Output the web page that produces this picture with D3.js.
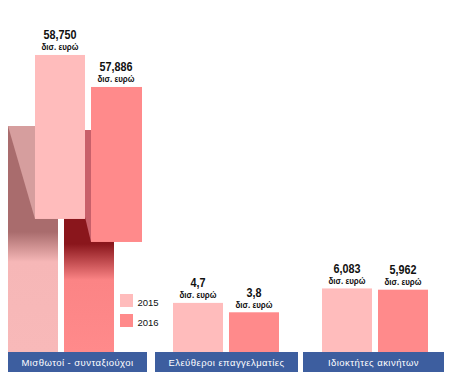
<!DOCTYPE html>
<html><head><meta charset="utf-8">
<script src="https://cdn.jsdelivr.net/npm/d3@7/dist/d3.min.js"></script>
<style>
body{margin:0;background:#fff;}
svg{display:block;}
.val{font-family:"Liberation Sans",Arial,sans-serif;font-weight:bold;fill:#111;}
.cat{font-family:"Liberation Sans",Arial,sans-serif;fill:#fff;}
.leg{font-family:"Liberation Sans",Arial,sans-serif;fill:#111;}
</style></head>
<body>
<script>
const categories = ["Μισθωτοί - συνταξιούχοι", "Ελεύθεροι επαγγελματίες", "Ιδιοκτήτες ακινήτων"];
const years = ["2015", "2016"];
const values2015 = [58.750, 4.7, 6.083];
const values2016 = [57.886, 3.8, 5.962];
const valueLabels2015 = ["58,750", "4,7", "6,083"];
const valueLabels2016 = ["57,886", "3,8", "5,962"];
const unitLabel = "δισ. ευρώ";

const W = 455, H = 380;
const colors = {"2015": "#ffbcbc", "2016": "#ff8a8b"};
const svg = d3.select("body").append("svg").attr("width", W).attr("height", H);
const defs = svg.append("defs");

const baseY = 352;
// scale for the normal bars
const y = d3.scaleLinear().domain([0, 10]).range([baseY, baseY - 104.5]);
// broken scale for the very large category
const yBreak = d3.scaleLinear().domain([57, 59]).range([119.8, 45.7]);

// category bands
const bands = [[8, 147], [155, 298], [303, 444]];
const barW = 50, gap = 6;
const barOffsets = [0, 18, 19];

const g = svg.append("g");
categories.forEach((c, i) => {
  const [x0, x1] = bands[i];
  g.append("rect").attr("x", x0).attr("y", baseY).attr("width", x1 - x0).attr("height", 20).attr("fill", "#3d5e9f");
  g.append("text").attr("class", "cat").attr("x", (x0 + x1) / 2).attr("y", 365.5)
    .attr("text-anchor", "middle").attr("font-size", "9.5px").attr("letter-spacing", "0.45px").text(c);
});

function label(cx, top, txt) {
  g.append("g").attr("transform", `translate(${cx},${top - 15.5}) scale(0.8,1)`)
    .append("text").attr("class", "val").attr("text-anchor", "middle").attr("font-size", "13.5px").text(txt);
  g.append("g").attr("transform", `translate(${cx},${top - 4.5}) scale(0.84,1)`)
    .append("text").attr("class", "val").attr("text-anchor", "middle").attr("font-size", "9.5px").text(unitLabel);
}

for (let i = 1; i < 3; i++) {
  const x0 = bands[i][0] + barOffsets[i];
  [[values2015[i], "2015", valueLabels2015[i]], [values2016[i], "2016", valueLabels2016[i]]].forEach(([v, yr, lab], k) => {
    const bx = x0 + k * (barW + gap);
    g.append("rect").attr("x", bx).attr("y", y(v)).attr("width", barW).attr("height", baseY - y(v)).attr("fill", colors[yr]);
    label(bx + barW / 2, y(v), lab);
  });
}

function grad(id, stops) {
  const lg = defs.append("linearGradient").attr("id", id).attr("x1", 0).attr("x2", 0)
    .attr("gradientUnits", "userSpaceOnUse")
    .attr("y1", stops[0][0]).attr("y2", stops[stops.length - 1][0]);
  const span = stops[stops.length - 1][0] - stops[0][0];
  stops.forEach(([yy, col]) => lg.append("stop").attr("offset", (yy - stops[0][0]) / span).attr("stop-color", col));
}
grad("g15", [[126, "#a96c6d"], [232, "#a96c6d"], [262, "#f6b7b7"], [352, "#f8b9b9"]]);
grad("g16", [[130, "#8a161c"], [244, "#8a161c"], [280, "#fb8485"], [352, "#ff8a8b"]]);

const x15 = bands[0][0], x16 = x15 + barW + gap;
const fx15 = x15 + 27, fx16 = x16 + 27;
const lowTop15 = 126, lowTop16 = 130;
const ft15 = yBreak(values2015[0]), ft16 = yBreak(values2016[0]);
const fb15 = ft15 + 164, fb16 = ft16 + 155;

g.append("rect").attr("x", x15).attr("y", lowTop15).attr("width", barW).attr("height", baseY - lowTop15).attr("fill", "url(#g15)");
g.append("rect").attr("x", x16).attr("y", lowTop16).attr("width", barW).attr("height", baseY - lowTop16).attr("fill", "url(#g16)");
g.append("polygon").attr("points", [[x15, lowTop15], [fx15, lowTop15], [fx15, fb15]].join(" ")).attr("fill", "#d69e9e");
g.append("polygon").attr("points", [[x16, lowTop16], [fx16, lowTop16], [fx16, fb16]].join(" ")).attr("fill", "#c9606a");
g.append("rect").attr("x", fx15).attr("y", ft15).attr("width", barW).attr("height", fb15 - ft15).attr("fill", colors["2015"]);
g.append("rect").attr("x", fx16).attr("y", ft16).attr("width", barW + 1).attr("height", fb16 - ft16).attr("fill", colors["2016"]);
label(fx15 + barW / 2, ft15, valueLabels2015[0]);
label(fx16 + barW / 2, ft16, valueLabels2016[0]);

years.forEach((yr, i) => {
  g.append("rect").attr("x", 120).attr("y", 294 + i * 20).attr("width", 13).attr("height", 13).attr("fill", colors[yr]);
  g.append("text").attr("class", "leg").attr("x", 137.5).attr("y", 306 + i * 20).attr("font-size", "9.5px").text(yr);
});
</script>
</body></html>
